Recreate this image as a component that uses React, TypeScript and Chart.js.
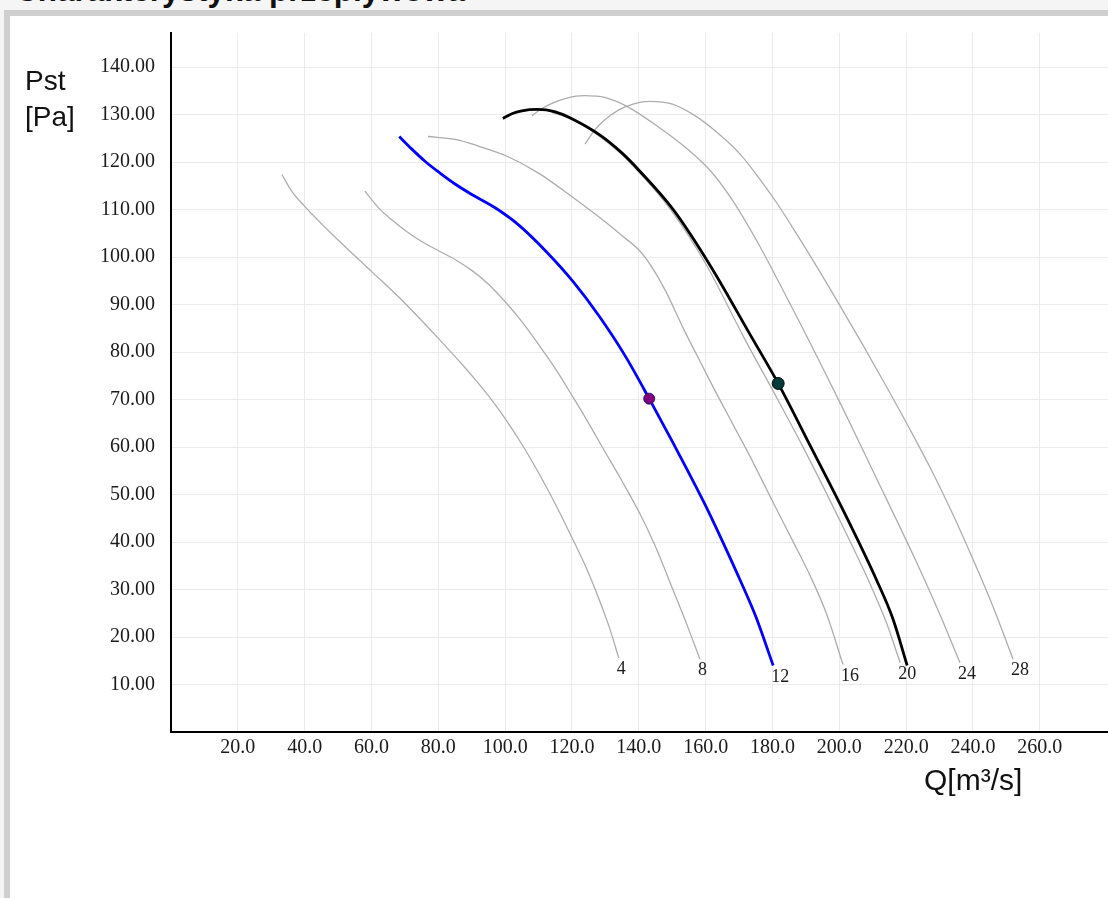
import React, { useEffect, useRef } from "react";
import { Chart, registerables } from "chart.js";

Chart.register(...registerables);

// ---- data (Q [m³/s], Pst [Pa]) ----
const q4 = [33.2, 36.0, 40.0, 50.0, 60.0, 70.0, 80.0, 88.0, 92.0, 96.0, 100.0, 105.0, 110.0, 115.0, 120.0, 124.0, 127.4, 131.0, 134.0];
const p4 = [117.4, 114.0, 110.7, 103.6, 97.0, 90.3, 82.9, 76.7, 73.4, 69.9, 66.0, 60.6, 54.6, 48.0, 40.9, 35.0, 29.2, 22.4, 15.6];

const q8 = [58.0, 62.5, 66.5, 70.5, 75.0, 80.2, 85.0, 90.4, 95.0, 100.4, 105.0, 110.4, 115.5, 120.4, 125.0, 129.3, 135.0, 140.3, 145.0, 150.3, 154.5, 158.3];
const p8 = [113.9, 110.1, 107.6, 105.4, 103.3, 101.3, 99.5, 97.0, 94.3, 90.3, 86.4, 81.2, 76.0, 70.4, 65.0, 59.7, 52.8, 46.0, 39.0, 29.8, 22.4, 15.3];

const q12 = [68.3, 72.0, 76.0, 80.5, 85.0, 90.0, 97.0, 104.0, 112.4, 120.4, 128.0, 136.0, 143.1, 150.0, 155.0, 160.3, 165.0, 170.3, 175.0, 180.2];
const p12 = [125.4, 122.8, 120.2, 117.7, 115.4, 113.2, 110.4, 106.8, 101.1, 94.8, 87.7, 79.1, 70.2, 61.2, 54.5, 47.2, 40.2, 32.0, 24.3, 14.0];

const q16 = [76.9, 85.0, 92.0, 100.4, 110.0, 120.4, 130.0, 135.0, 140.3, 144.0, 148.0, 153.3, 158.0, 163.3, 168.0, 173.3, 180.0, 186.0, 191.2, 196.0, 201.1];
const p16 = [125.4, 124.8, 123.4, 121.3, 117.7, 112.5, 107.4, 104.5, 101.3, 97.8, 92.9, 85.0, 78.5, 71.2, 65.0, 58.0, 48.6, 40.3, 33.0, 25.2, 14.2];

const q20 = [114.0, 120.0, 127.5, 134.0, 139.5, 149.3, 160.0, 171.5, 179.8, 189.0, 199.0, 209.0, 214.0, 218.2];
const p20 = [130.5, 129.0, 125.8, 122.2, 118.3, 110.2, 98.6, 83.0, 72.3, 60.2, 46.2, 31.5, 23.2, 14.6];

const q24 = [108.0, 111.0, 114.0, 118.5, 123.5, 130.0, 136.3, 146.3, 155.0, 161.3, 168.0, 176.2, 182.0, 189.5, 195.0, 201.0, 211.0, 223.0, 230.0, 236.1];
const p24 = [129.8, 131.3, 132.4, 133.5, 134.0, 133.6, 131.8, 127.2, 122.5, 118.3, 112.0, 102.3, 94.6, 84.4, 76.7, 68.2, 53.6, 35.9, 24.9, 14.6];

const q28 = [123.9, 126.5, 129.3, 134.0, 138.5, 143.3, 150.0, 156.3, 163.0, 170.3, 176.0, 181.3, 188.0, 194.2, 201.0, 207.2, 214.2, 221.0, 228.1, 234.0, 240.1, 246.0, 252.0];
const p28 = [123.8, 126.5, 128.6, 131.0, 132.3, 132.8, 132.2, 130.0, 126.5, 121.7, 116.6, 111.4, 104.0, 96.9, 88.8, 81.3, 72.6, 63.9, 54.4, 45.8, 36.2, 26.4, 15.3];

// working (selected) curve
const qWork = [99.3, 102.0, 105.0, 109.5, 115.0, 120.4, 128.4, 135.0, 140.3, 150.3, 161.3, 173.7, 181.7, 191.2, 201.2, 211.2, 216.0, 220.3];
const pWork = [129.2, 130.2, 130.8, 131.1, 130.6, 129.0, 125.7, 121.9, 118.1, 110.0, 98.3, 83.2, 73.4, 60.4, 46.6, 31.9, 23.9, 14.0];

// operating points
const opBlueQ = [143.1];
const opBlueP = [70.2];
const opWorkQ = [181.7];
const opWorkP = [73.4];

const curveLabels = ["4", "8", "12", "16", "20", "24", "28"];
const xTicks = [20, 40, 60, 80, 100, 120, 140, 160, 180, 200, 220, 240, 260];
const yTicks = [10, 20, 30, 40, 50, 60, 70, 80, 90, 100, 110, 120, 130, 140];

const zip = (xs: number[], ys: number[]) => xs.map((x, i) => ({ x, y: ys[i] }));

const endLabelPlugin = {
  id: "endLabels",
  afterDatasetsDraw(chart: any) {
    const ctx = chart.ctx;
    chart.data.datasets.forEach((ds: any, i: number) => {
      if (!ds.endLabel) return;
      const meta = chart.getDatasetMeta(i);
      const last = meta.data[meta.data.length - 1];
      if (!last) return;
      ctx.save();
      ctx.font = '18px "Liberation Serif"';
      ctx.fillStyle = "#1a1a1a";
      ctx.textAlign = "left";
      ctx.textBaseline = "alphabetic";
      ctx.fillText(ds.endLabel, last.x - 2, last.y + 16);
      ctx.restore();
    });
  },
};

export default function App() {
  const ref = useRef<HTMLCanvasElement | null>(null);

  useEffect(() => {
    if (!ref.current) return;
    const gray = "#adadad";
    const grayLine = (xs: number[], ys: number[], label: string) => ({
      data: zip(xs, ys),
      showLine: true,
      borderColor: gray,
      borderWidth: 1.3,
      pointRadius: 0,
      cubicInterpolationMode: "monotone",
      endLabel: label,
      order: 3,
    });
    const datasets: any[] = [
      grayLine(q4, p4, curveLabels[0]),
      grayLine(q8, p8, curveLabels[1]),
      grayLine(q16, p16, curveLabels[3]),
      grayLine(q20, p20, curveLabels[4]),
      grayLine(q24, p24, curveLabels[5]),
      grayLine(q28, p28, curveLabels[6]),
      {
        data: zip(q12, p12),
        showLine: true,
        borderColor: "#0000ff",
        borderWidth: 2.8,
        pointRadius: 0,
        cubicInterpolationMode: "monotone",
        endLabel: curveLabels[2],
        order: 2,
      },
      {
        data: zip(qWork, pWork),
        showLine: true,
        borderColor: "#000000",
        borderWidth: 2.8,
        pointRadius: 0,
        cubicInterpolationMode: "monotone",
        order: 2,
      },
      {
        data: zip(opBlueQ, opBlueP),
        showLine: false,
        pointRadius: 5.5,
        pointBackgroundColor: "#800080",
        pointBorderColor: "#2a1a6a",
        pointBorderWidth: 1,
        order: 1,
      },
      {
        data: zip(opWorkQ, opWorkP),
        showLine: false,
        pointRadius: 6,
        pointBackgroundColor: "#023a38",
        pointBorderColor: "#001010",
        pointBorderWidth: 1,
        order: 1,
      },
    ];

    const tickFont = { family: '"Liberation Serif"', size: 20 };
    const chart = new Chart(ref.current, {
      type: "scatter",
      data: { datasets },
      plugins: [endLabelPlugin],
      options: {
        animation: false,
        responsive: false,
        maintainAspectRatio: false,
        layout: { autoPadding: false, padding: { top: 33, left: 0, right: 0, bottom: 0 } },
        plugins: { legend: { display: false }, tooltip: { enabled: false } },
        scales: {
          x: {
            type: "linear",
            min: 0,
            max: 280.4,
            afterBuildTicks: (axis: any) => {
              axis.ticks = xTicks.map((v) => ({ value: v }));
            },
            afterFit: (axis: any) => {
              axis.height = 166;
              axis.paddingLeft = 0;
              axis.paddingRight = 0;
            },
            grid: { color: "#ebebeb", lineWidth: 1, drawTicks: false },
            border: { color: "#000000", width: 2 },
            ticks: {
              padding: 4,
              font: tickFont,
              color: "#1a1a1a",
              autoSkip: false,
              maxRotation: 0,
              callback: (v: any) => Number(v).toFixed(1),
            },
          },
          y: {
            type: "linear",
            min: 0,
            max: 147.2,
            afterBuildTicks: (axis: any) => {
              axis.ticks = yTicks.map((v) => ({ value: v }));
            },
            afterFit: (axis: any) => {
              axis.width = 171;
              axis.paddingTop = 0;
              axis.paddingBottom = 0;
            },
            grid: { color: "#ebebeb", lineWidth: 1, drawTicks: false },
            border: { color: "#000000", width: 2 },
            ticks: {
              padding: 16,
              font: tickFont,
              color: "#1a1a1a",
              autoSkip: false,
              callback: (v: any) => Number(v).toFixed(2),
            },
          },
        },
      } as any,
    });
    return () => chart.destroy();
  }, []);

  return (
    <div
      style={{
        position: "fixed",
        left: 0,
        top: 0,
        width: 1108,
        height: 898,
        overflow: "hidden",
        background: "#f5f5f5",
      }}
    >
      <div
        style={{
          position: "absolute",
          left: 15,
          top: 0,
          height: 9,
          width: 620,
          overflow: "hidden",
        }}
      >
        <div
          style={{
            position: "absolute",
            left: 0,
            top: -26,
            font: 'bold 31.5px "Liberation Sans"',
            lineHeight: "33px",
            whiteSpace: "nowrap",
            color: "#111",
          }}
        >
          Charakterystyka przepływowa
        </div>
      </div>
      <div
        style={{
          position: "absolute",
          left: 4,
          top: 10,
          width: 1200,
          height: 1000,
          borderLeft: "6px solid #cfcfcf",
          borderTop: "6px solid #cfcfcf",
          background: "#ffffff",
        }}
      />
      <canvas
        ref={ref}
        width={1108}
        height={898}
        style={{ position: "absolute", left: 0, top: 0, width: 1108, height: 898 }}
      />
      <div
        style={{
          position: "absolute",
          left: 25,
          top: 63,
          font: '28px "Liberation Sans"',
          lineHeight: "36px",
          color: "#111",
        }}
      >
        Pst
        <br />
        [Pa]
      </div>
      <div
        style={{
          position: "absolute",
          left: 924,
          top: 763,
          font: '30px "Liberation Sans"',
          lineHeight: "34px",
          color: "#111",
          whiteSpace: "nowrap",
        }}
      >
        Q[m³/s]
      </div>
    </div>
  );
}
